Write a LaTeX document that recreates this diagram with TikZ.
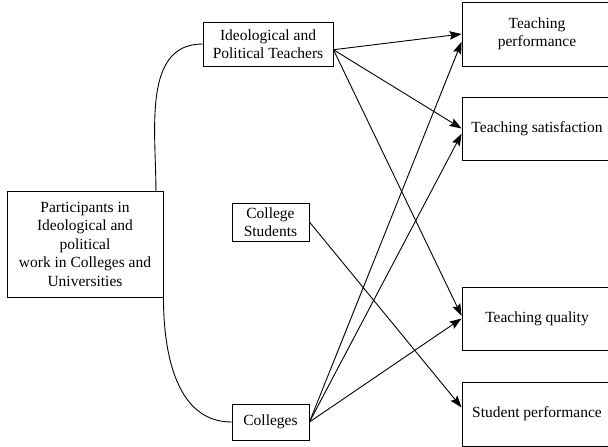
\documentclass[tikz,border=0pt]{standalone}
\usepackage{fontspec}
\setmainfont{Liberation Serif}
\usepackage{tikz}
\usetikzlibrary{arrows.meta}

\begin{document}
\begin{tikzpicture}[x=1pt,y=-1pt,>={Stealth[length=12pt,width=8.5pt,inset=2pt]},
  box/.style={draw,line width=0.9pt,inner sep=0pt,align=center,
    font=\fontsize{15.5}{18.5}\selectfont},
  link/.style={line width=0.9pt}]
\useasboundingbox (0,0) rectangle (608,447);
% left and middle
\node[box,minimum width=156pt,minimum height=106pt](part) at (85,244)
  {Participants in\\Ideological and\\political\\work in Colleges and\\Universities};
\node[box,minimum width=130pt,minimum height=44pt](teach) at (268,44)
  {Ideological and\\Political Teachers};
\node[box,minimum width=77pt,minimum height=38pt](stud) at (270.5,222)
  {College\\Students};
\node[box,minimum width=77pt,minimum height=36pt](coll) at (270.5,422) {Colleges};
% right column
\node[box,minimum width=150pt,minimum height=64pt](tp) at (537,34)
  {Teaching\\performance};
\node[box,minimum width=150pt,minimum height=63pt](ts) at (537,128.5)
  {Teaching satisfaction};
\node[box,minimum width=150pt,minimum height=63pt](tq) at (537,318.5)
  {Teaching quality};
\node[box,minimum width=150pt,minimum height=64pt](sp) at (537,414)
  {Student performance};
% curves
\draw[link](teach.west) to[out=180,in=90] (part.37);
\draw[link](part.south east) to[out=-90,in=180] (coll.west);
% arrows
\draw[link,->](teach.-5)--(tp.west);
\draw[link,->](teach.-5)--(ts.west);
\draw[link,->](teach.-5)--(tq.178);
\draw[link,->](coll.east)--(tp.186);
\draw[link,->](coll.east)--(ts.184);
\draw[link,->](coll.east)--(tq.west);
\draw[link,->](stud.east)--(sp.175);
\end{tikzpicture}
\end{document}
